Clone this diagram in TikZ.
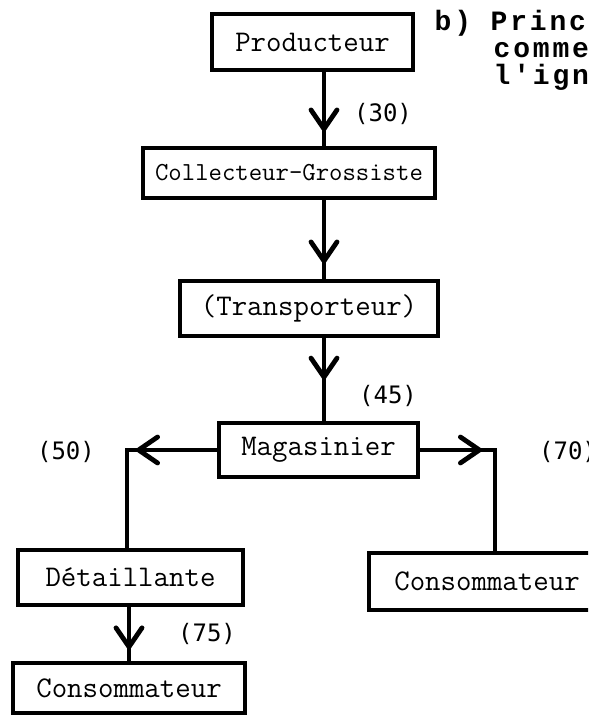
\documentclass[tikz,border=0pt]{standalone}
\usepackage{fontspec}
\newfontfamily\labfont{DejaVu Sans Mono}
\newfontfamily\ttlfont[LetterSpace=10]{Liberation Mono}
\usetikzlibrary{arrows.meta,decorations.markings}

\begin{document}
\begin{tikzpicture}[x=0.5pt, y=-0.5pt, line width=1.7pt,
    >={Straight Barb[length=9.5pt, width=13pt, line width=2.4pt, round]},
    box/.style={draw, line width=1.8pt, inner sep=0pt, font=\ttfamily\fontsize{15}{18}\selectfont},
    lab/.style={font=\labfont\fontsize{12}{14}\selectfont},
    ttl/.style={anchor=base west, inner sep=0pt, font=\ttlfont\bfseries\fontsize{14}{16}\selectfont},
    midarrow/.style={postaction={decorate}, decoration={markings, mark=at position #1 with {\arrow{>}}}}]
  \useasboundingbox (0,0) rectangle (588,716);
  \clip (0,0) rectangle (588,716);
  % boxes
  \node[box, minimum width=201*0.5pt, minimum height=56*0.5pt] (prod) at (312.5,42) {Producteur};
  \node[box, minimum width=292*0.5pt, minimum height=50*0.5pt, font=\ttfamily\fontsize{13}{16}\selectfont] (coll) at (289,173) {Collecteur-Grossiste};
  \node[box, minimum width=258*0.5pt, minimum height=55*0.5pt] (trans) at (309,308.5) {(Transporteur)};
  \node[box, minimum width=199*0.5pt, minimum height=54*0.5pt] (mag) at (318.5,450) {Magasinier};
  \node[box, minimum width=225*0.5pt, minimum height=55*0.5pt] (det) at (130.5,577.5) {D\'etaillante};
  \node[box, minimum width=236*0.5pt, minimum height=57*0.5pt] (cons1) at (487,581.5) {Consommateur};
  \node[box, minimum width=232*0.5pt, minimum height=50*0.5pt] (cons2) at (129,688) {Consommateur};
  % title
  \node[ttl] (tb) at (433,31) {b) Princ};
  \node[ttl] (tc) at (492,58) {commer};
  \node[ttl] (tl) at (492,85) {l'igna};
  % flow
  \coordinate (ax) at (324,0);
  \coordinate (cl) at (127,450);
  \coordinate (cr) at (495,450);
  \draw[midarrow=0.8] (prod.south -| ax) -- (coll.north -| ax);
  \draw[midarrow=0.8] (coll.south -| ax) -- (trans.north -| ax);
  \draw[midarrow=0.5] (trans.south -| ax) -- (mag.north -| ax);
  \draw[midarrow=40.5pt] (mag.west) -- (cl) -- (cl |- det.north);
  \draw[midarrow=31pt] (mag.east) -- (cr) -- (cr |- cons1.north);
  \draw[midarrow=0.78] (det.south -| cons2.north) -- (cons2.north);
  % quantities
  \node[lab] (q30) at (383,114) {(30)};
  \node[lab] (q45) at (388,396) {(45)};
  \node[lab] (q50) at (66,452) {(50)};
  \node[lab] (q70) at (568,452) {(70)};
  \node[lab] (q75) at (207,634) {(75)};
\end{tikzpicture}
\end{document}
